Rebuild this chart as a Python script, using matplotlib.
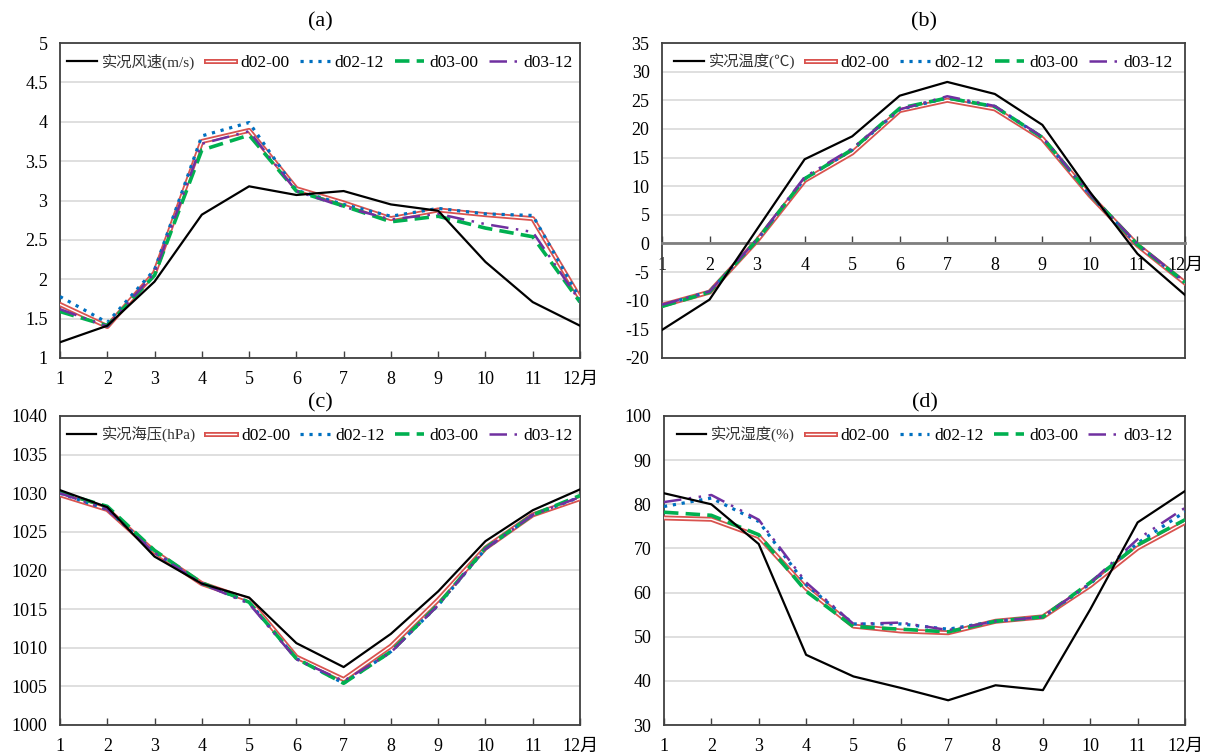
import matplotlib
matplotlib.use("Agg")
import matplotlib.pyplot as plt
import matplotlib.patheffects as pe

plt.rcParams['font.family'] = ['Liberation Serif', 'Noto Sans CJK SC']

months = list(range(1, 13))
month_labels = [str(m) for m in range(1, 12)] + ["12月"]
series_names = ["d02-00", "d02-12", "d03-00", "d03-12"]

# (a) wind speed
wind_obs = [1.20, 1.41, 1.97, 2.82, 3.18, 3.07, 3.12, 2.95, 2.87, 2.22, 1.71, 1.41]
wind_d0200 = [1.68, 1.40, 2.08, 3.75, 3.89, 3.15, 2.97, 2.77, 2.88, 2.82, 2.77, 1.76]
wind_d0212 = [1.78, 1.45, 2.12, 3.82, 3.99, 3.13, 2.95, 2.80, 2.90, 2.83, 2.81, 1.75]
wind_d0300 = [1.59, 1.41, 2.05, 3.64, 3.83, 3.12, 2.93, 2.73, 2.80, 2.65, 2.54, 1.71]
wind_d0312 = [1.62, 1.40, 2.08, 3.72, 3.88, 3.12, 2.92, 2.76, 2.83, 2.70, 2.60, 1.72]

# (b) temperature
temp_obs = [-15.1, -9.8, 2.5, 14.7, 18.7, 25.8, 28.2, 26.1, 20.7, 9.0, -1.8, -9.0]
temp_d0200 = [-10.8, -8.5, 0.5, 11.0, 15.8, 23.2, 25.0, 23.5, 18.3, 8.4, -0.3, -6.9]
temp_d0212 = [-10.8, -8.4, 0.6, 11.3, 16.3, 23.4, 25.4, 23.9, 18.5, 8.5, -0.2, -6.8]
temp_d0300 = [-11.0, -8.5, 0.6, 11.3, 16.4, 23.6, 25.4, 23.9, 18.5, 8.6, -0.2, -6.8]
temp_d0312 = [-10.7, -8.4, 0.7, 11.6, 16.6, 23.4, 25.7, 24.0, 18.6, 8.6, -0.1, -6.7]

# (c) sea level pressure
slp_obs = [1030.4, 1028.2, 1021.8, 1018.3, 1016.5, 1010.6, 1007.5, 1011.8, 1017.3, 1023.8, 1027.8, 1030.5]
slp_d0200 = [1029.8, 1027.9, 1022.4, 1018.3, 1016.2, 1008.8, 1005.9, 1010.2, 1016.2, 1022.9, 1027.2, 1029.3]
slp_d0212 = [1030.0, 1027.9, 1022.4, 1018.3, 1015.9, 1008.6, 1005.4, 1009.5, 1015.5, 1022.8, 1027.2, 1029.5]
slp_d0300 = [1030.1, 1028.3, 1022.6, 1018.4, 1015.9, 1008.6, 1005.4, 1009.5, 1015.6, 1022.9, 1027.2, 1029.7]
slp_d0312 = [1030.0, 1027.9, 1022.3, 1018.3, 1015.7, 1008.5, 1005.7, 1009.4, 1015.5, 1022.8, 1027.2, 1029.5]

# (d) relative humidity
rh_obs = [82.5, 80.0, 71.0, 45.9, 41.0, 38.4, 35.6, 39.0, 37.9, 56.2, 75.9, 83.0]
rh_d0200 = [76.9, 76.6, 72.7, 61.0, 52.4, 51.3, 50.9, 53.5, 54.5, 61.6, 70.1, 75.9]
rh_d0212 = [79.5, 81.4, 76.1, 61.8, 52.9, 52.9, 51.7, 53.5, 54.5, 62.0, 71.2, 78.3]
rh_d0300 = [78.2, 77.5, 73.1, 60.3, 52.3, 51.7, 51.1, 53.5, 54.5, 62.3, 70.8, 76.5]
rh_d0312 = [80.5, 82.1, 76.5, 62.3, 52.9, 53.2, 51.5, 53.5, 54.5, 62.2, 72.1, 79.2]

panels = [
    ("(a)", "实况风速(m/s)", [wind_obs, wind_d0200, wind_d0212, wind_d0300, wind_d0312],
     (1, 5), [1, 1.5, 2, 2.5, 3, 3.5, 4, 4.5, 5], ["1", "1.5", "2", "2.5", "3", "3.5", "4", "4.5", "5"]),
    ("(b)", "实况温度(℃)", [temp_obs, temp_d0200, temp_d0212, temp_d0300, temp_d0312],
     (-20, 35), list(range(-20, 36, 5)), [str(v) for v in range(-20, 36, 5)]),
    ("(c)", "实况海压(hPa)", [slp_obs, slp_d0200, slp_d0212, slp_d0300, slp_d0312],
     (1000, 1040), list(range(1000, 1041, 5)), [str(v) for v in range(1000, 1041, 5)]),
    ("(d)", "实况湿度(%)", [rh_obs, rh_d0200, rh_d0212, rh_d0300, rh_d0312],
     (30, 100), list(range(30, 101, 10)), [str(v) for v in range(30, 101, 10)]),
]

W, H = 1207, 753
fig = plt.figure(figsize=(W / 100, H / 100), dpi=100)
boxes = [(60, 580, 43, 358), (662, 1185, 43, 358), (60, 580, 416, 725), (664, 1185, 416, 725)]
title_pads = [12, 12, 6, 6]

RED = "#D9534F"
BLUE = "#0070C0"
GREEN = "#00B050"
PURPLE = "#7030A0"
SPINE = "#404040"

for (title, obs_label, data, ylim, yticks, ylabels), (l, r, t, b), tpad in zip(panels, boxes, title_pads):
    ax = fig.add_axes([l / W, 1 - b / H, (r - l) / W, (b - t) / H])
    ax.set_xlim(1, 12)
    ax.set_ylim(*ylim)
    ax.set_yticks(yticks)
    ax.set_yticklabels(ylabels)
    ax.set_xticks(months)
    ax.set_xticklabels(month_labels, va="baseline")
    ax.yaxis.grid(True, color="#D9D9D9", linewidth=1.2)
    ax.set_axisbelow(True)
    ax.tick_params(axis="y", length=0, labelsize=13, pad=9)
    crosses_zero = ylim[0] < 0 < ylim[1]
    ax.tick_params(axis="x", direction="in", length=5, width=1, color=SPINE, labelsize=13,
                   pad=10 if crosses_zero else 19)
    for s in ax.spines.values():
        s.set_color(SPINE)
        s.set_linewidth(1.3)

    obs, d0200, d0212, d0300, d0312 = data
    ax.plot(months, obs, color="black", lw=1.6, label=obs_label, zorder=6)
    ax.plot(months, d0200, color="white", lw=1.0, label=series_names[0], zorder=3,
            path_effects=[pe.Stroke(linewidth=3.6, foreground=RED), pe.Normal()])
    ax.plot(months, d0212, color=BLUE, lw=2.3, linestyle=(0, (1, 1.8)), label=series_names[1], zorder=4)
    ax.plot(months, d0300, color=GREEN, lw=2.6, linestyle=(0, (4, 2)), label=series_names[2], zorder=4)
    ax.plot(months, d0312, color=PURPLE, lw=1.8, linestyle=(0, (7, 3, 1, 3, 1, 3)), label=series_names[3], zorder=5)

    if crosses_zero:
        ax.spines["bottom"].set_position(("data", 0))
        ax.spines["bottom"].set_color("#7F7F7F")
        ax.spines["bottom"].set_linewidth(2.0)
        ax.plot([0, 1], [0, 0], transform=ax.transAxes, color=SPINE, lw=1.3, clip_on=False, zorder=7)

    ax.set_title(title, fontsize=16, pad=tpad)
    leg = ax.legend(loc="upper center", ncol=5, frameon=False, fontsize=12.5, handlelength=1.7,
                    handletextpad=0.3, columnspacing=0.6, borderaxespad=0.25,
                    bbox_to_anchor=(0.5, 1.0))
    leg.get_texts()[0].set_fontsize(11)
    leg.get_texts()[0].set_color("#333333")

fig.savefig("out.png", dpi=100)
